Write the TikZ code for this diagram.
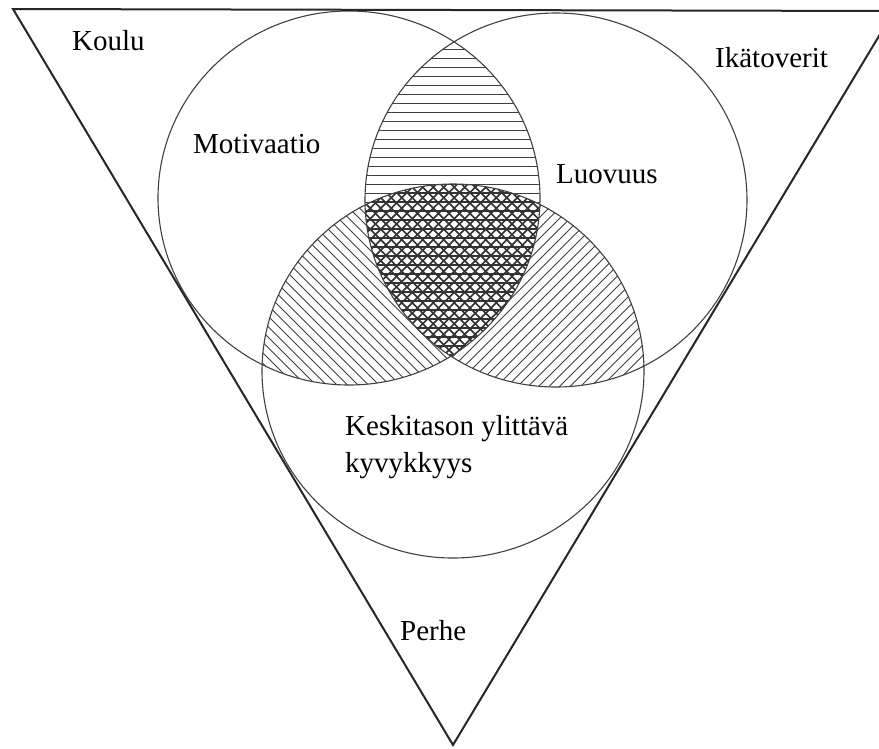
\documentclass[tikz,border=0pt]{standalone}
\usepackage{fontspec}
\setmainfont{Liberation Serif}
\begin{document}
\begin{tikzpicture}[x=1pt,y=-1pt,
  circ/.style={draw=black!75, line width=1.1pt},
  tri/.style={draw=black!85, line width=2pt, line join=miter},
  hatch/.style={draw=black!75, line width=0.9pt},
  hatchdark/.style={draw=black!80, line width=1.5pt},
  lbl/.style={anchor=base west, inner sep=0pt, font=\fontsize{29}{34}\selectfont}]
\useasboundingbox (0,0) rectangle (879,748);
% horizontal hatch in L cap R
\begin{scope}
  \clip (349,198) ellipse [x radius=191pt, y radius=187pt];
  \clip (556,200) ellipse [x radius=191pt, y radius=187pt];
  \foreach \yy in {40,49,...,400} \draw[hatch] (300,\yy) -- (620,\yy);
\end{scope}
% NW hatch in L cap B
\begin{scope}
  \clip (349,198) ellipse [x radius=191pt, y radius=187pt];
  \clip (453,371) ellipse [x radius=191pt, y radius=187pt];
  \foreach \cc in {-300,-289.5,...,600} \draw[hatch] (\cc,0) -- ({\cc+700},700);
\end{scope}
% NE hatch in R cap B
\begin{scope}
  \clip (556,200) ellipse [x radius=191pt, y radius=187pt];
  \clip (453,371) ellipse [x radius=191pt, y radius=187pt];
  \foreach \cc in {400,410.5,...,1300} \draw[hatch] (\cc,0) -- ({\cc-700},700);
\end{scope}
% denser mesh in the centre (L cap R cap B)
\begin{scope}
  \clip (349,198) ellipse [x radius=191pt, y radius=187pt];
  \clip (556,200) ellipse [x radius=191pt, y radius=187pt];
  \clip (453,371) ellipse [x radius=191pt, y radius=187pt];
  \foreach \yy in {40,49,...,400} \draw[hatchdark] (300,\yy) -- (620,\yy);
  \foreach \cc in {-300,-289.5,...,600} \draw[hatchdark] (\cc,0) -- ({\cc+700},700);
  \foreach \cc in {400,410.5,...,1300} \draw[hatchdark] (\cc,0) -- ({\cc-700},700);
\end{scope}
% circles
\draw[circ] (349,198) ellipse [x radius=191pt, y radius=187pt];
\draw[circ] (556,200) ellipse [x radius=191pt, y radius=187pt];
\draw[circ] (453,371) ellipse [x radius=191pt, y radius=187pt];
% triangle
\begin{scope}
  \clip (0,0) rectangle (879,748);
  \coordinate (tl) at (13,9);
  \coordinate (tr) at (894,11);
  \coordinate (ap) at (453,745);
  \draw[tri] (tl) -- (tr) -- (ap) -- cycle;
\end{scope}
% labels
\node[lbl] (koulu) at (72,50) {Koulu};
\node[lbl] (ika) at (715,67) {Ikätoverit};
\node[lbl] (mot) at (193,153) {Motivaatio};
\node[lbl] (luo) at (556,183) {Luovuus};
\node[lbl] (kesk) at (345,435) {Keskitason ylittävä};
\node[lbl] (kyv) at (345,472) {kyvykkyys};
\node[lbl] (perhe) at (400,640) {Perhe};
\end{tikzpicture}
\end{document}
